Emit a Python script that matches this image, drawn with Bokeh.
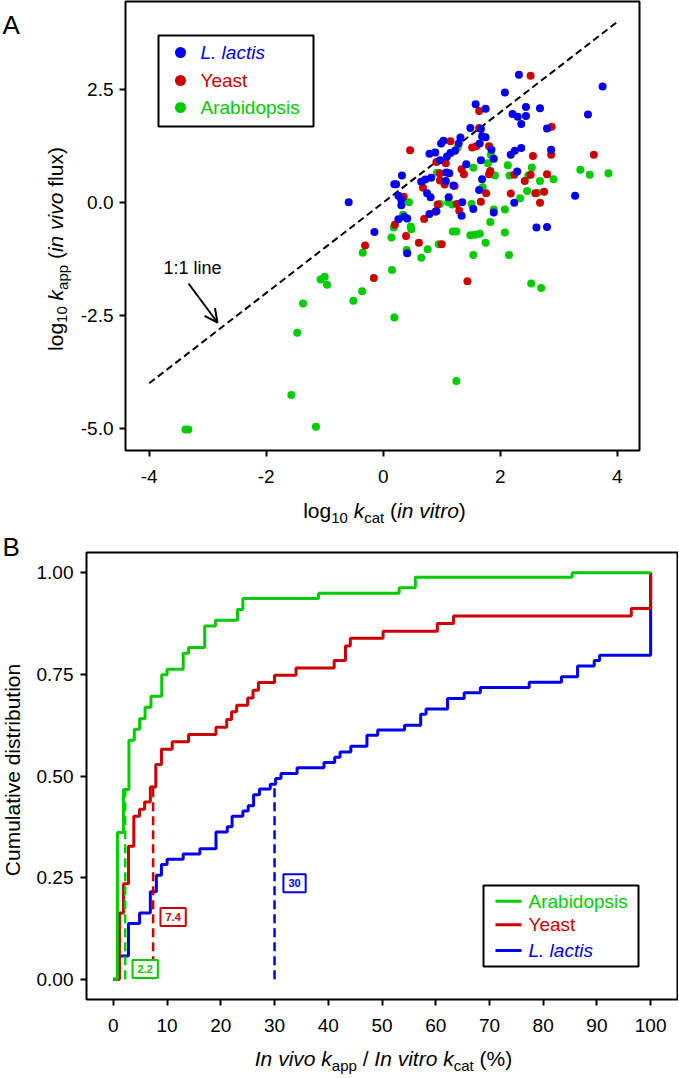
import numpy as np
from bokeh.plotting import figure
from bokeh.models import (Range1d, FixedTicker, PrintfTickFormatter, Label,
                          Arrow, OpenHead)
from bokeh.layouts import column, row
from bokeh.embed import file_html
from bokeh.resources import INLINE

# ---------------- data: panel A (log10 kcat in vitro, log10 kapp in vivo) ----
LL_X = [-0.59, -0.15, 2.32, 3.75, 2.08, 1.58, 1.75, 2.44, 2.68, 2.21, 2.30, 2.44,
        2.36, 3.50, 2.80, 1.49, 1.67, 1.69, 1.75, 1.65, 1.32, 1.29, 1.03, 0.99,
        1.23, 1.15, 1.09, 0.89, 0.79, 1.85, 1.89, 1.67, 1.42, 0.97, 2.36, 2.25,
        2.18, 2.87, 2.29, 0.32, 0.22, 0.19, 0.82, 0.65, 0.72, 1.08, 1.13, 1.69,
        1.20, 1.07, 1.64, 0.75, 0.81, 0.26, 0.31, 0.31, 1.12, 1.35, 2.24, 3.28,
        1.54, 1.89, 1.34, 0.79, 0.91, 0.26, 0.36, 0.41, 2.62, 2.80, 0.41]
LL_Y = [0.01, -0.65, 2.83, 2.57, 2.44, 2.18, 2.08, 2.12, 2.09, 1.96, 1.90, 1.92,
        1.74, 1.95, 1.64, 1.65, 1.63, 1.47, 1.45, 1.31, 1.44, 1.31, 1.37, 1.31,
        1.15, 1.10, 1.02, 1.11, 1.08, 1.17, 0.97, 0.94, 0.85, 0.94, 1.21, 1.15,
        1.06, 1.17, 0.69, 0.60, 0.41, 0.41, 0.55, 0.46, 0.51, 0.67, 0.65, 0.52,
        0.38, 0.48, 0.28, 0.21, 0.12, 0.15, 0.07, -0.06, 0.12, 0.01, 0.00, 0.15,
        -0.14, -0.22, -0.29, -0.25, -0.19, -0.37, -0.31, -0.35, -0.55, -0.54, -1.12]

YE_X = [2.52, 1.64, 1.64, 2.88, 0.46, 1.15, 1.52, 1.59, 1.81, 1.07, 0.91, 2.56,
        2.87, 3.60, 1.34, 1.38, 1.83, 1.81, 0.97, 0.97, 1.05, 1.22, 0.68, 2.24,
        2.52, 2.42, 2.80, 1.76, 2.18, 2.60, 2.75, 2.68, 1.67, 0.93, 1.26, 1.30,
        0.89, 0.70, 0.35, 0.20, 0.39, -0.31, 0.61, 1.00, -0.16, 1.44]
YE_Y = [2.81, 2.03, 1.65, 1.68, 1.16, 1.36, 1.22, 1.25, 1.25, 0.87, 0.90, 1.03,
        1.06, 1.06, 0.74, 0.63, 0.70, 0.63, 0.65, 0.49, 0.40, 0.37, 0.33, 0.62,
        0.62, 0.48, 0.63, 0.21, 0.20, 0.21, 0.24, 0.00, 0.02, -0.04, -0.03, -0.18,
        -0.20, -0.36, 0.13, -0.49, -0.74, -0.95, -0.89, -0.92, -1.67, -1.74]

AR_X = [0.44, 0.92, 1.27, 1.54, 1.79, 1.84, 1.91, 2.13, 2.16, 2.54, 2.48, 2.68,
        2.91, 3.37, 3.53, 3.85, 1.70, 2.46, 2.34, 2.64, 1.11, 1.18, 1.51, 1.89,
        2.08, 1.83, 2.08, 0.34, 0.18, 0.47, 0.48, 0.14, 1.19, 1.25, 1.49, 1.57,
        1.65, 1.75, 0.95, 0.76, 0.40, -0.35, 1.54, 2.15, 0.65, 0.97, 0.15, -0.36,
        -0.51, -1.07, -1.00, -0.96, -1.37, -1.47, 0.19, 2.53, 2.70, 1.25, -1.57,
        -1.15, -3.38, -3.33]
AR_Y = [0.01, 0.66, 1.22, 0.77, 0.87, 1.06, 0.60, 0.83, 0.60, 0.78, 0.60, 0.48,
        0.52, 0.73, 0.62, 0.65, 0.34, 0.26, 0.10, 0.22, 0.01, -0.04, -0.03, -0.15,
        -0.15, -0.43, -0.66, -0.27, -0.55, -0.53, -0.59, -0.77, -0.64, -0.64, -0.72, -0.71,
        -0.69, -0.89, -0.92, -1.03, -1.05, -1.11, -1.16, -1.16, -1.22, -0.03, -1.49, -1.96,
        -2.17, -1.70, -1.64, -1.82, -2.23, -2.88, -2.54, -1.79, -1.89, -3.95, -4.26,
        -4.96, -5.02, -5.02]

ONE_TO_ONE = [-4, 4]
A_XTICKS = [-4, -2, 0, 2, 4]
A_YTICKS = [-5.0, -2.5, 0.0, 2.5]

# ---------------- data: panel B (cumulative distributions, step curves) -----
AR_CDF_X = [0, 0.75, 1.88, 2.9, 3.9, 4.9, 5.9, 7.0, 9.0, 10.0, 13.0, 14.0, 17.0,
            19.0, 23.1, 24.1, 38.2, 53.2, 56.2, 85.4, 100]
AR_CDF_Y = [0, 0.361, 0.467, 0.588, 0.615, 0.641, 0.669, 0.696, 0.749, 0.763,
            0.802, 0.816, 0.869, 0.883, 0.910, 0.937, 0.950, 0.963, 0.989, 1.0, 1.0]

YE_CDF_X = [0, 1.13, 1.88, 2.81, 3.81, 4.88, 5.82, 6.88, 7.9, 8.95, 10.95, 14.0,
            19.1, 21.1, 22.0, 22.95, 25.0, 26.0, 27.0, 30.0, 34.0, 41.1, 43.2,
            44.1, 50.2, 60.3, 63.3, 96.4, 100]
YE_CDF_Y = [0, 0.163, 0.235, 0.327, 0.401, 0.418, 0.436, 0.473, 0.528, 0.566,
            0.584, 0.602, 0.620, 0.639, 0.658, 0.674, 0.692, 0.711, 0.730, 0.748,
            0.766, 0.784, 0.820, 0.839, 0.856, 0.875, 0.894, 0.912, 1.0]

LL_CDF_X = [0, 0.95, 2.81, 4.88, 6.88, 8.0, 8.95, 10.0, 13.0, 16.1, 19.1, 21.2,
            22.1, 24.1, 25.1, 26.1, 27.2, 29.2, 30.2, 31.2, 34.2, 39.2, 41.2,
            42.2, 44.2, 47.2, 49.2, 54.2, 57.2, 58.2, 62.2, 65.3, 68.3, 77.4,
            83.4, 86.4, 89.5, 90.5, 100]
LL_CDF_Y = [0, 0.057, 0.137, 0.163, 0.215, 0.256, 0.282, 0.295, 0.308, 0.321,
            0.362, 0.375, 0.401, 0.414, 0.427, 0.454, 0.468, 0.480, 0.494, 0.506,
            0.520, 0.533, 0.546, 0.559, 0.573, 0.600, 0.613, 0.625, 0.652, 0.665,
            0.691, 0.705, 0.718, 0.731, 0.744, 0.771, 0.784, 0.797, 1.0]

MEDIAN_NAMES = ["Arabidopsis", "Yeast", "L. lactis"]
MEDIANS = [2.2, 7.4, 30]
MEDIAN_TEXT = ["2.2", "7.4", "30"]
B_XTICKS = [0, 10, 20, 30, 40, 50, 60, 70, 80, 90, 100]
B_YTICKS = [0.0, 0.25, 0.5, 0.75, 1.0]

BLUE, RED, GREEN = "#0000EE", "#CC0000", "#00CC00"
FONT = "Liberation Sans"
BASE_FIX = 0.33   # alphabetic-baseline labels render ~0.33 em below the anchor

# Arial / Liberation Sans advance widths (per 1000 em)
W = {' ': 278, '(': 333, ')': 333, '%': 889, '/': 278, '.': 278, ':': 278, '-': 333,
     'a': 556, 'b': 556, 'c': 500, 'd': 556, 'e': 556, 'f': 278, 'g': 556, 'i': 222,
     'k': 500, 'l': 222, 'm': 833, 'n': 556, 'o': 556, 'p': 556, 'r': 333, 's': 500,
     't': 278, 'u': 556, 'v': 500, 'x': 500, 'C': 722, 'I': 278}


def tw(s, fs):
    return sum(W.get(c, 556) for c in s) * fs / 1000.0


def rich(p, conv, pieces, cx, cy, fs, rotated=False, color="black"):
    """Place mixed-style text (italic / subscript pieces) centred on (cx, cy)."""
    sfs = round(fs * 0.72)
    drop = 0.24 * fs
    info = []
    for t, st in pieces:
        f = sfs if st == "sub" else fs
        info.append((t, st, f, tw(t, f)))
    total = sum(i[3] for i in info)
    pos = -total / 2.0
    for t, st, f, w in info:
        lead = len(t) - len(t.lstrip(" "))
        txt = t.strip(" ")
        if txt:
            off = pos + tw(" " * lead, f)
            d = (drop if st == "sub" else 0) - BASE_FIX * f
            if rotated:
                fx, fy = cx + d, cy - off
            else:
                fx, fy = cx + off, cy + d
            X, Y = conv(fx, fy)
            p.add_layout(Label(x=X, y=Y, text=txt, angle=(np.pi / 2 if rotated else 0),
                               text_font=FONT, text_font_size=f"{f}px",
                               text_font_style=("italic" if st == "it" else "normal"),
                               text_color=color, text_align="left",
                               text_baseline="alphabetic"))
        pos += w


def strip(w, h, x0, y0):
    """Figure whose frame is the whole canvas: holds titles / panel letters."""
    f = figure(width=w, height=h, output_backend="svg", toolbar_location=None,
               title=None, x_range=Range1d(0, w), y_range=Range1d(0, h),
               x_axis_type=None, y_axis_type=None, min_border=0, frame_align=False)
    f.outline_line_color = None
    f.grid.visible = False
    f.background_fill_color = "white"
    f.border_fill_color = "white"

    def conv(px, py):
        return (px - x0, h - (py - y0))
    return f, conv


def style(p, fs=19):
    p.grid.visible = False
    p.outline_line_color = "black"
    p.outline_line_width = 2
    p.background_fill_color = "white"
    p.border_fill_color = "white"
    for ax in (p.xaxis[0], p.yaxis[0]):
        ax.axis_line_color = None
        ax.major_tick_line_color = "black"
        ax.major_tick_line_width = 2
        ax.major_tick_out = 6
        ax.major_tick_in = 0
        ax.minor_tick_line_color = None
        ax.major_label_text_font = FONT
        ax.major_label_text_font_size = f"{fs}px"
        ax.major_label_text_color = "black"


# ======================= Panel A =======================
# frame (page px): left 125, right 639, top 1, bottom 450
AX0, AX1 = -4.405, 4.381
AY0, AY1 = -5.487, 4.453
FA_L, FA_T, FA_W, FA_H = 125, 1, 514, 449
YSTRIP_A = 76

pA = figure(width=678 - YSTRIP_A, height=494, output_backend="svg",
            toolbar_location=None, title=None,
            x_range=Range1d(AX0, AX1), y_range=Range1d(AY0, AY1),
            min_border_left=FA_L - YSTRIP_A, min_border_right=39,
            min_border_top=1, min_border_bottom=44, frame_align=False)
style(pA)
pA.xaxis.ticker = FixedTicker(ticks=A_XTICKS)
pA.yaxis.ticker = FixedTicker(ticks=A_YTICKS)
pA.xaxis.formatter = PrintfTickFormatter(format="%d")
pA.yaxis.formatter = PrintfTickFormatter(format="%.1f")
pA.xaxis.major_label_standoff = 13
pA.yaxis.major_label_standoff = 6


def convA(px, py):
    return (AX0 + (px - FA_L) / FA_W * (AX1 - AX0),
            AY1 - (py - FA_T) / FA_H * (AY1 - AY0))


pA.line(ONE_TO_ONE, ONE_TO_ONE, line_color="black", line_width=2, line_dash="7 4")
pA.scatter(AR_X, AR_Y, size=8, fill_color=GREEN, line_color=None)
pA.scatter(YE_X, YE_Y, size=8, fill_color=RED, line_color=None)
pA.scatter(LL_X, LL_Y, size=8, fill_color=BLUE, line_color=None)

s0, s1 = convA(188, 283), convA(217, 322)
pA.add_layout(Arrow(end=OpenHead(size=13, line_width=2, line_color="black"),
                    x_start=s0[0], y_start=s0[1], x_end=s1[0], y_end=s1[1],
                    line_width=2, line_color="black"))
t0 = convA(163, 273 - BASE_FIX * 18)
pA.add_layout(Label(x=t0[0], y=t0[1], text="1:1 line", text_font=FONT,
                    text_font_size="18px", text_color="black",
                    text_baseline="alphabetic"))

b0, b1 = convA(158, 126), convA(313, 35)
pA.quad(left=b0[0], right=b1[0], bottom=b0[1], top=b1[1], fill_color="white",
        line_color="black", line_width=2)
for (name, col, st), ry in zip([("L. lactis", BLUE, "italic"), ("Yeast", RED, "normal"),
                                ("Arabidopsis", GREEN, "normal")], [52, 80, 107]):
    m = convA(180, ry)
    pA.scatter([m[0]], [m[1]], size=11, fill_color=col, line_color=None)
    tl = convA(200, ry)
    pA.add_layout(Label(x=tl[0], y=tl[1], text=name, text_font=FONT,
                        text_font_size="19px", text_font_style=st, text_color=col,
                        text_baseline="middle"))

fAy, cAy = strip(YSTRIP_A, 494, 0, 0)
la = cAy(2, 33 - BASE_FIX * 26)
fAy.add_layout(Label(x=la[0], y=la[1], text="A", text_font=FONT, text_font_size="26px",
                     text_color="black", text_baseline="alphabetic"))
rich(fAy, cAy, [("log", "n"), ("10", "sub"), (" ", "n"), ("k", "it"), ("app", "sub"),
                (" (", "n"), ("in vivo", "it"), (" flux)", "n")], 61.5, 248.5, 21,
     rotated=True)

fAx, cAx = strip(678, 36, 0, 494)
rich(fAx, cAx, [("log", "n"), ("10", "sub"), (" ", "n"), ("k", "it"), ("cat", "sub"),
                (" (", "n"), ("in vitro", "it"), (")", "n")], 384, 517, 21)

# ======================= Panel B =======================
# frame (page px): left 86, right 677, top 552, bottom 999
BX0, BX1 = -5, 105
BY0, BY1 = -0.05, 1.05
FB_L, FB_T, FB_W, FB_H = 86, 552, 591, 447
YSTRIP_B = 30

pB = figure(width=678 - YSTRIP_B, height=513, output_backend="svg",
            toolbar_location=None, title=None,
            x_range=Range1d(BX0, BX1), y_range=Range1d(BY0, BY1),
            min_border_left=FB_L - YSTRIP_B, min_border_right=1,
            min_border_top=22, min_border_bottom=44, frame_align=False)
style(pB)
pB.xaxis.ticker = FixedTicker(ticks=B_XTICKS)
pB.yaxis.ticker = FixedTicker(ticks=B_YTICKS)
pB.xaxis.formatter = PrintfTickFormatter(format="%d")
pB.yaxis.formatter = PrintfTickFormatter(format="%.2f")
pB.xaxis.major_label_standoff = 13
pB.yaxis.major_label_standoff = 7


def convB(px, py):
    return (BX0 + (px - FB_L) / FB_W * (BX1 - BX0),
            BY1 - (py - FB_T) / FB_H * (BY1 - BY0))


for sx, sy, col in [(LL_CDF_X, LL_CDF_Y, BLUE), (YE_CDF_X, YE_CDF_Y, RED),
                    (AR_CDF_X, AR_CDF_Y, GREEN)]:
    pB.step(sx, sy, mode="after", line_color=col, line_width=3)

med_series = [(AR_CDF_X, AR_CDF_Y, GREEN), (YE_CDF_X, YE_CDF_Y, RED),
              (LL_CDF_X, LL_CDF_Y, BLUE)]
label_y = [0.025, 0.153, 0.236]
for med, txt, (sx, sy, col), ly in zip(MEDIANS, MEDIAN_TEXT, med_series, label_y):
    idx = np.searchsorted(np.array(sx), med, side="right") - 1
    top = sy[idx]
    pB.segment(x0=[med], y0=[0], x1=[med], y1=[top], line_color=col, line_width=2.5,
               line_dash="9 5")
    pB.add_layout(Label(x=med, y=ly, x_offset=20, text=txt, text_font=FONT,
                        text_font_size="11px", text_font_style="bold", text_color=col,
                        text_align="center", text_baseline="middle",
                        border_line_color=col, border_line_width=2,
                        background_fill_color="white", padding=5))

lb0, lb1 = convB(483, 966), convB(638, 885)
pB.quad(left=lb0[0], right=lb1[0], bottom=lb0[1], top=lb1[1], fill_color="white",
        line_color="black", line_width=2)
for (name, col, st), ry in zip([("Arabidopsis", GREEN, "normal"), ("Yeast", RED, "normal"),
                                ("L. lactis", BLUE, "italic")], [900.7, 924.3, 950]):
    a0, a1 = convB(495, ry), convB(521, ry)
    pB.segment(x0=[a0[0]], y0=[a0[1]], x1=[a1[0]], y1=[a1[1]], line_color=col,
               line_width=3)
    tl = convB(528, ry)
    pB.add_layout(Label(x=tl[0], y=tl[1], text=name, text_font=FONT,
                        text_font_size="19px", text_font_style=st, text_color=col,
                        text_baseline="middle"))

fBy, cBy = strip(YSTRIP_B, 513, 0, 530)
lb = cBy(2, 555 - BASE_FIX * 26)
fBy.add_layout(Label(x=lb[0], y=lb[1], text="B", text_font=FONT, text_font_size="26px",
                     text_color="black", text_baseline="alphabetic"))
rich(fBy, cBy, [("Cumulative distribution", "n")], 19, 769.5, 21, rotated=True)

fBx, cBx = strip(678, 33, 0, 1043)
rich(fBx, cBx, [("In vivo", "it"), (" ", "n"), ("k", "it"), ("app", "sub"),
                (" / ", "n"), ("In vitro", "it"), (" ", "n"), ("k", "it"),
                ("cat", "sub"), (" (%)", "n")], 383, 1065, 21)

layout = column(row(fAy, pA), fAx, row(fBy, pB), fBx)
open("out.html", "w").write(file_html(layout, INLINE))
